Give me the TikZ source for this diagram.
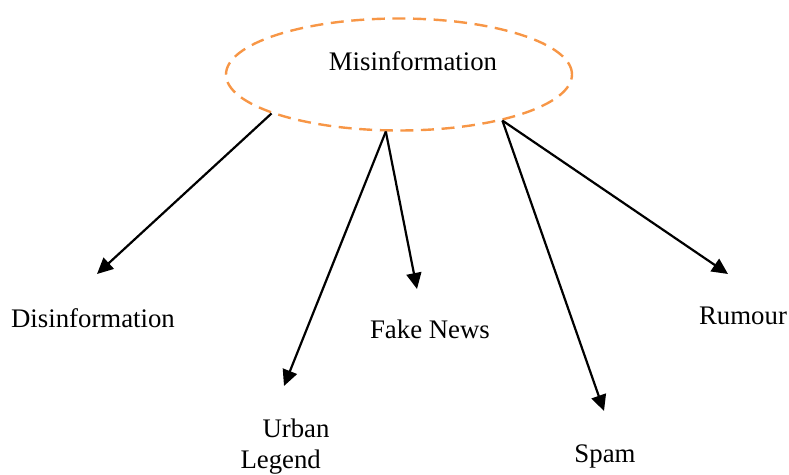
\documentclass[tikz,border=0pt]{standalone}
\usepackage{fontspec}
\setmainfont{Liberation Serif}
\usetikzlibrary{shapes.geometric,arrows.meta}
\definecolor{misorange}{HTML}{F79646}

\begin{document}
\begin{tikzpicture}[x=0.5pt,y=-0.5pt,
  cloud/.style={ellipse,draw=misorange,line width=1.2pt,
    dash pattern=on 6.5pt off 3.8pt,minimum width=173pt,minimum height=56pt,inner sep=0pt},
  lbl/.style={font=\fontsize{13.4}{15.5}\selectfont,inner sep=0pt},
  arr/.style={-{Triangle[length=8pt,width=7.5pt]},line width=1.1pt}]
  \useasboundingbox (0,0) rectangle (789,475);

  \node[cloud] (mis) at (399,74.5) {};
  \node[lbl] (mistext) at (413,61) {Misinformation};

  \node[lbl] (disinfo) at (93,318) {Disinformation};
  \node[lbl,align=left] (urban) at (285,447) {\hspace{11pt}Urban\\Legend};
  \node[lbl] (fake) at (430,329) {Fake News};
  \node[lbl] (spam) at (605,456) {Spam};
  \node[lbl] (rumour) at (743,316) {Rumour};

  \coordinate (disinfotip) at (97,274);
  \coordinate (urbantip) at (284,386);
  \coordinate (faketip) at (417,289);
  \coordinate (spamtip) at (604,411);
  \coordinate (rumourtip) at (728,274);

  \draw[arr] (mis.197.5) -- (disinfotip);
  \draw[arr] (mis.257) -- (urbantip);
  \draw[arr] (mis.257) -- (faketip);
  \draw[arr] (mis.336) -- (spamtip);
  \draw[arr] (mis.336) -- (rumourtip);
\end{tikzpicture}
\end{document}
